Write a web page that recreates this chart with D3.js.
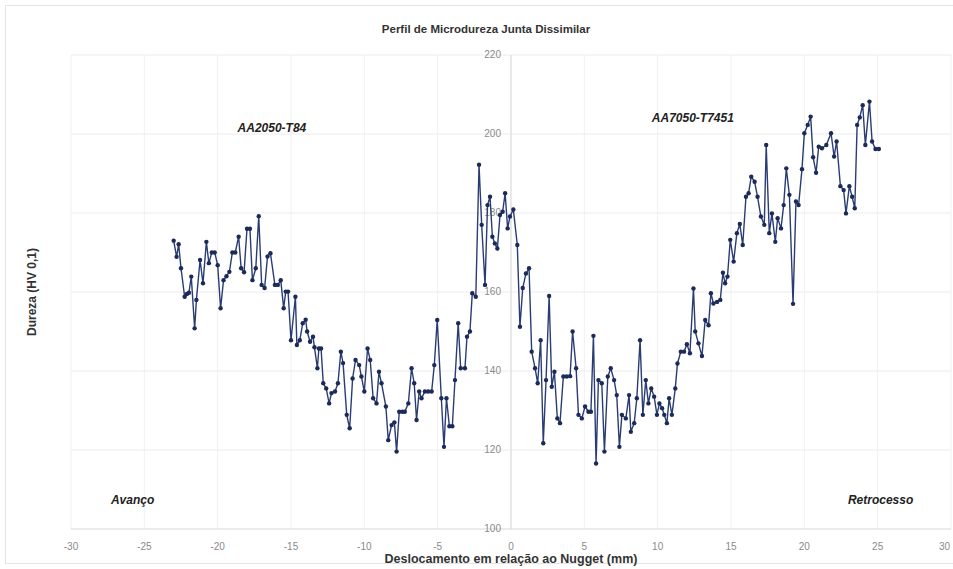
<!DOCTYPE html>
<html>
<head>
<meta charset="utf-8">
<script src="https://cdn.jsdelivr.net/npm/d3@7"></script>
<style>
  body { margin: 0; background: #fff; }
  svg { font-family: "Liberation Sans", Arial, sans-serif; }
</style>
</head>
<body>
<div id="chart"></div>
<script>
// Deslocamento (mm)
const posicoes = [
  -23.0, -22.8, -22.66, -22.5, -22.25, -22.1, -21.96, -21.8, -21.57, -21.45,
  -21.2, -21.0, -20.77, -20.6, -20.4, -20.2, -20.0, -19.8, -19.6, -19.4,
  -19.2, -19.0, -18.8, -18.57, -18.4, -18.2, -18.0, -17.8, -17.63, -17.4,
  -17.2, -17.0, -16.8, -16.6, -16.4, -16.1, -15.9, -15.7, -15.5, -15.36,
  -15.2, -15.0, -14.7, -14.6, -14.4, -14.2, -14.0, -13.9, -13.7, -13.5,
  -13.4, -13.2, -13.1, -12.95, -12.8, -12.6, -12.4, -12.24, -12.0, -11.8,
  -11.6, -11.45, -11.2, -11.0, -10.8, -10.6, -10.35, -10.2, -10.0, -9.78,
  -9.6, -9.4, -9.17, -9.0, -8.83, -8.53, -8.37, -8.14, -7.95, -7.8,
  -7.62, -7.4, -7.24, -7.0, -6.78, -6.6, -6.44, -6.26, -6.1, -5.87,
  -5.65, -5.41, -5.23, -5.03, -4.75, -4.57, -4.4, -4.2, -4.0, -3.82,
  -3.6, -3.43, -3.14, -3.0, -2.8, -2.64, -2.4, -2.18, -2.0, -1.77,
  -1.6, -1.43, -1.27, -1.1, -0.93, -0.75, -0.57, -0.4, -0.23, -0.07,
  0.16, 0.43, 0.61, 0.8, 1.02, 1.23, 1.41, 1.64, 1.82, 2.02,
  2.2, 2.39, 2.6, 2.78, 2.96, 3.16, 3.34, 3.57, 3.8, 4.03,
  4.2, 4.44, 4.6, 4.83, 5.05, 5.28, 5.45, 5.62, 5.8, 5.96,
  6.19, 6.37, 6.6, 6.8, 7.03, 7.21, 7.39, 7.56, 7.83, 8.05,
  8.17, 8.4, 8.58, 8.8, 8.99, 9.19, 9.37, 9.56, 9.76, 9.95,
  10.12, 10.3, 10.45, 10.63, 10.78, 10.97, 11.2, 11.35, 11.58, 11.8,
  11.99, 12.2, 12.44, 12.56, 12.78, 13.02, 13.24, 13.47, 13.63, 13.8,
  14.05, 14.27, 14.45, 14.6, 14.76, 14.95, 15.18, 15.4, 15.6, 15.8,
  16.02, 16.2, 16.38, 16.61, 16.81, 17.04, 17.27, 17.4, 17.61, 17.79,
  18.02, 18.18, 18.41, 18.59, 18.77, 18.98, 19.23, 19.43, 19.61, 19.84,
  20.0, 20.23, 20.43, 20.6, 20.8, 20.98, 21.2, 21.5, 21.82, 22.03,
  22.2, 22.46, 22.68, 22.84, 23.07, 23.26, 23.44, 23.6, 23.78, 23.98,
  24.16, 24.44, 24.62, 24.85, 25.08
];

// Dureza (HV 0,1)
const durezas = [
  173.0, 168.9, 172.1, 166.0, 158.8, 159.5, 159.8, 163.9, 150.8, 158.0,
  168.1, 162.2, 172.7, 167.3, 170.0, 170.0, 166.8, 155.9, 163.0, 164.0,
  165.1, 170.0, 170.0, 174.0, 166.0, 165.0, 176.0, 176.0, 163.0, 166.0,
  179.2, 161.8, 161.0, 169.0, 169.8, 161.8, 161.8, 163.0, 155.9, 160.1,
  160.1, 147.8, 158.8, 146.6, 147.8, 152.1, 153.0, 150.0, 147.4, 148.7,
  146.0, 140.7, 145.7, 145.7, 136.9, 135.6, 131.8, 134.4, 134.8, 136.9,
  144.9, 142.0, 128.9, 125.5, 138.1, 142.8, 141.5, 138.6, 134.8, 145.7,
  142.8, 133.1, 131.8, 139.8, 136.9, 131.0, 122.5, 126.3, 127.0, 119.6,
  129.7, 129.7, 129.7, 131.8, 140.7, 136.9, 127.6, 134.8, 133.1, 134.8,
  134.8, 134.8, 141.5, 152.9, 133.1, 120.8, 133.1, 126.0, 126.0, 137.7,
  152.1, 140.7, 140.7, 148.7, 150.0, 159.7, 158.8, 192.2, 177.0, 161.8,
  182.0, 184.1, 174.0, 172.3, 171.0, 179.5, 180.3, 185.0, 176.1, 179.1,
  180.9, 171.9, 151.2, 161.0, 164.7, 166.0, 144.9, 140.7, 136.9, 147.8,
  121.7, 137.7, 159.0, 136.0, 139.8, 128.0, 126.8, 138.6, 138.6, 138.7,
  150.0, 140.7, 128.9, 128.0, 131.0, 129.7, 129.7, 148.9, 116.6, 137.7,
  136.9, 119.6, 138.6, 140.7, 137.7, 133.9, 120.8, 128.9, 128.0, 133.9,
  124.6, 126.8, 133.1, 147.8, 128.9, 137.7, 131.8, 135.6, 133.5, 128.9,
  131.8, 130.6, 128.9, 126.8, 133.1, 128.9, 135.6, 141.9, 144.9, 144.9,
  146.8, 144.5, 160.9, 150.0, 147.0, 143.8, 152.9, 151.6, 159.7, 157.1,
  157.5, 158.0, 164.9, 162.2, 163.9, 173.2, 167.7, 174.9, 177.2, 171.9,
  184.1, 185.0, 189.2, 187.9, 184.1, 179.1, 177.0, 197.2, 174.9, 179.9,
  172.7, 178.7, 176.1, 182.0, 191.3, 184.6, 157.0, 182.9, 182.0, 191.1,
  200.2, 202.3, 204.4, 194.1, 190.2, 196.8, 196.4, 197.2, 200.2, 194.3,
  198.1, 186.8, 185.8, 179.9, 186.8, 184.1, 181.2, 202.3, 204.2, 207.3,
  197.2, 208.2, 198.1, 196.2, 196.2
];

const xTicks = [-30, -25, -20, -15, -10, -5, 0, 5, 10, 15, 20, 25, 30];
const yTicks = [100, 120, 140, 160, 180, 200, 220];

const width = 953, height = 569;
const margin = { top: 55, right: 2, bottom: 40, left: 71 };

const svg = d3.select("#chart").append("svg")
  .attr("width", width)
  .attr("height", height);

// moldura do gráfico
svg.append("rect")
  .attr("x", 5.5).attr("y", 5.5)
  .attr("width", width).attr("height", height - 11)
  .attr("fill", "none")
  .attr("stroke", "#e4e4e4");

const x = d3.scaleLinear().domain([-30, 30]).range([margin.left, width - margin.right]);
const y = d3.scaleLinear().domain([100, 220]).range([height - margin.bottom, margin.top]);

// grades
svg.append("g")
  .selectAll("line")
  .data(xTicks)
  .join("line")
  .attr("x1", d => x(d)).attr("x2", d => x(d))
  .attr("y1", y(220)).attr("y2", y(100))
  .attr("stroke", "#f1f1f1");

svg.append("g")
  .selectAll("line")
  .data(yTicks)
  .join("line")
  .attr("x1", x(-30)).attr("x2", x(30))
  .attr("y1", d => y(d)).attr("y2", d => y(d))
  .attr("stroke", d => d === 100 ? "#d9d9d9" : "#ececec");

// eixo vertical no zero
svg.append("line")
  .attr("x1", x(0)).attr("x2", x(0))
  .attr("y1", y(220)).attr("y2", y(100))
  .attr("stroke", "#d9d9d9");

// rótulos dos eixos
svg.append("g")
  .selectAll("text")
  .data(xTicks)
  .join("text")
  .attr("x", d => d === 30 ? x(d) - 1 : x(d))
  .attr("y", y(100) + 21)
  .attr("text-anchor", d => d === 30 ? "end" : "middle")
  .attr("font-size", 10)
  .attr("fill", "#8a8a8a")
  .text(d => d);

svg.append("g")
  .selectAll("text")
  .data(yTicks)
  .join("text")
  .attr("x", x(0) - 10)
  .attr("y", d => y(d) + 3)
  .attr("text-anchor", "end")
  .attr("font-size", 10)
  .attr("fill", "#8a8a8a")
  .text(d => d);

// série
const pontos = posicoes.map((p, i) => [p, durezas[i]]);
const line = d3.line().x(d => x(d[0])).y(d => y(d[1]));

svg.append("path")
  .datum(pontos)
  .attr("fill", "none")
  .attr("stroke", "#2a3c74")
  .attr("stroke-width", 1.4)
  .attr("d", line);

svg.append("g")
  .selectAll("circle")
  .data(pontos)
  .join("circle")
  .attr("cx", d => x(d[0]))
  .attr("cy", d => y(d[1]))
  .attr("r", 2.2)
  .attr("fill", "#1b2a58");

// títulos
svg.append("text")
  .attr("x", 486).attr("y", 33)
  .attr("text-anchor", "middle")
  .attr("font-size", 11.5)
  .attr("font-weight", "bold")
  .attr("fill", "#333")
  .text("Perfil de Microdureza Junta Dissimilar");

svg.append("text")
  .attr("x", x(0)).attr("y", 563)
  .attr("text-anchor", "middle")
  .attr("font-size", 12.5)
  .attr("font-weight", "bold")
  .attr("fill", "#333")
  .text("Deslocamento em relação ao Nugget (mm)");

svg.append("text")
  .attr("transform", "translate(36,292) rotate(-90)")
  .attr("text-anchor", "middle")
  .attr("font-size", 12)
  .attr("font-weight", "bold")
  .attr("fill", "#333")
  .text("Dureza (HV 0,1)");

// anotações
const notas = [
  { t: "AA2050-T84", px: -16.3, py: 200.5 },
  { t: "AA7050-T7451", px: 12.4, py: 203 },
  { t: "Avanço", px: -25.8, py: 106.3 },
  { t: "Retrocesso", px: 25.2, py: 106.3 }
];

svg.append("g")
  .selectAll("text")
  .data(notas)
  .join("text")
  .attr("x", d => x(d.px))
  .attr("y", d => y(d.py))
  .attr("text-anchor", "middle")
  .attr("font-size", 12)
  .attr("font-weight", "bold")
  .attr("font-style", "italic")
  .attr("fill", "#222")
  .text(d => d.t);
</script>
</body>
</html>
